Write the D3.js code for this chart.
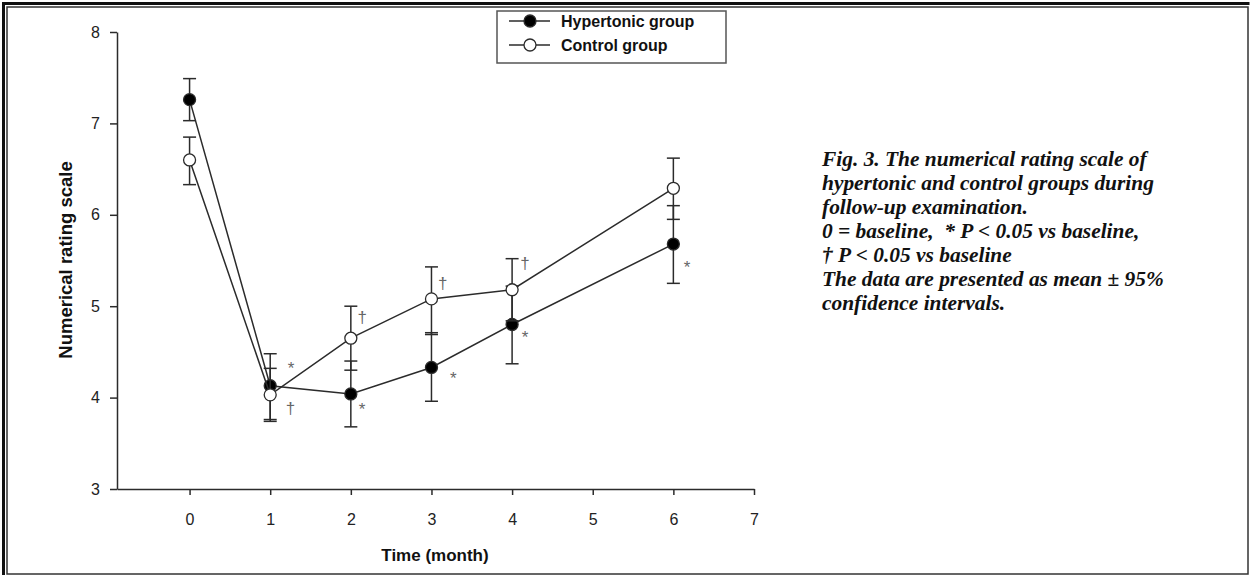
<!DOCTYPE html>
<html>
<head>
<meta charset="utf-8">
<script src="https://cdn.jsdelivr.net/npm/d3@7"></script>
<style>
  body { margin: 0; background: #fff; }
  svg { display: block; }
</style>
</head>
<body>
<div id="chart"></div>
<script>
var WIDTH = 1250;
var HEIGHT = 576;

// data
var months = [0, 1, 2, 3, 4, 6];
var hyperMean = [7.26, 4.13, 4.04, 4.33, 4.80, 5.68];
var hyperLow = [7.03, 3.76, 3.68, 3.96, 4.37, 5.25];
var hyperHigh = [7.49, 4.48, 4.40, 4.71, 5.22, 6.10];
var controlMean = [6.60, 4.03, 4.65, 5.08, 5.18, 6.29];
var controlLow = [6.33, 3.74, 4.30, 4.69, 4.84, 5.95];
var controlHigh = [6.85, 4.32, 5.00, 5.43, 5.52, 6.62];

// significance marks, placed in data units
var markText = ["*", "\u2020", "\u2020", "*", "\u2020", "*", "\u2020", "*", "*"];
var markMonth = [1.26, 1.25, 2.14, 2.14, 3.14, 3.27, 4.16, 4.16, 6.17];
var markValue = [4.37, 3.88, 4.88, 3.92, 5.25, 4.26, 5.47, 4.71, 5.48];

var xTicks = [0, 1, 2, 3, 4, 5, 6, 7];
var yTicks = [3, 4, 5, 6, 7, 8];
var seriesNames = ["Hypertonic group", "Control group"];

var captionLines = [
	"Fig. 3. The numerical rating scale of",
	"hypertonic and control groups during",
	"follow-up examination.",
	"0 = baseline,  * P < 0.05 vs baseline,",
	"\u2020 P < 0.05 vs baseline",
	"The data are presented as mean \u00b1 95%",
	"confidence intervals."
];

var INK = "#2b2b2b";
var SANS = "Liberation Sans, Arial, sans-serif";

var svg = d3.select("#chart")
	.append("svg")
	.attr("width", WIDTH)
	.attr("height", HEIGHT);

svg.append("rect").attr("width", WIDTH).attr("height", HEIGHT).attr("fill", "#fff");

// frame: heavy top/left, thin all round
svg.append("rect")
	.attr("x", 7).attr("y", 7)
	.attr("width", 1241).attr("height", 567)
	.attr("fill", "none").attr("stroke", "#333").attr("stroke-width", 1.5);
svg.append("line")
	.attr("x1", 2).attr("x2", 1249.5).attr("y1", 3.5).attr("y2", 3.5)
	.attr("stroke", "#111").attr("stroke-width", 3);
svg.append("line")
	.attr("x1", 3.5).attr("x2", 3.5).attr("y1", 2).attr("y2", 575)
	.attr("stroke", "#111").attr("stroke-width", 3);

var xScale = d3.scaleLinear().domain([-0.9, 7]).range([117, 754]);
var yScale = d3.scaleLinear().domain([3, 8]).range([489, 32]);

// axes
var xAxis = svg.append("g")
	.attr("transform", "translate(0," + yScale(3) + ")")
	.call(d3.axisBottom(xScale).tickValues(xTicks).tickFormat(d3.format("d"))
		.tickSize(6).tickPadding(19).tickSizeOuter(0));
var yAxis = svg.append("g")
	.attr("transform", "translate(" + xScale(-0.9) + ",0)")
	.call(d3.axisLeft(yScale).tickValues(yTicks).tickFormat(d3.format("d"))
		.tickSize(7).tickPadding(10).tickSizeOuter(0));

[xAxis, yAxis].forEach(function (g) {
	g.select(".domain").attr("stroke", INK).attr("stroke-width", 1.5);
	g.selectAll(".tick line").attr("stroke", INK).attr("stroke-width", 1.5);
	g.selectAll(".tick text")
		.attr("fill", "#222")
		.style("font-family", SANS)
		.style("font-size", "16px");
});

svg.append("text")
	.attr("x", 435).attr("y", 561)
	.attr("text-anchor", "middle")
	.style("font-family", SANS)
	.style("font-size", "17px").style("font-weight", "bold")
	.attr("fill", "#111")
	.text("Time (month)");

svg.append("text")
	.attr("transform", "translate(72,260) rotate(-90)")
	.attr("text-anchor", "middle")
	.style("font-family", SANS)
	.style("font-size", "18.5px").style("font-weight", "bold")
	.attr("fill", "#111")
	.text("Numerical rating scale");

// series
var series = [
	{ mean: hyperMean, low: hyperLow, high: hyperHigh, fill: "#000" },
	{ mean: controlMean, low: controlLow, high: controlHigh, fill: "#fff" }
];

var line = d3.line()
	.x(function (d) { return xScale(d[0]); })
	.y(function (d) { return yScale(d[1]); });

var capHalf = 6.5;

series.forEach(function (s) {
	var g = svg.append("g");
	var pts = months.map(function (m, i) { return [m, s.mean[i], s.low[i], s.high[i]]; });

	// error bars
	g.selectAll(".bar").data(pts).join("line")
		.attr("x1", function (d) { return xScale(d[0]); })
		.attr("x2", function (d) { return xScale(d[0]); })
		.attr("y1", function (d) { return yScale(d[2]); })
		.attr("y2", function (d) { return yScale(d[3]); })
		.attr("stroke", INK).attr("stroke-width", 1.5);
	g.selectAll(".capLow").data(pts).join("line")
		.attr("x1", function (d) { return xScale(d[0]) - capHalf; })
		.attr("x2", function (d) { return xScale(d[0]) + capHalf; })
		.attr("y1", function (d) { return yScale(d[2]); })
		.attr("y2", function (d) { return yScale(d[2]); })
		.attr("stroke", INK).attr("stroke-width", 1.5);
	g.selectAll(".capHigh").data(pts).join("line")
		.attr("x1", function (d) { return xScale(d[0]) - capHalf; })
		.attr("x2", function (d) { return xScale(d[0]) + capHalf; })
		.attr("y1", function (d) { return yScale(d[3]); })
		.attr("y2", function (d) { return yScale(d[3]); })
		.attr("stroke", INK).attr("stroke-width", 1.5);

	s.group = g;
	s.pts = pts;
});

series.forEach(function (s) {
	s.group.append("path")
		.attr("d", line(s.pts))
		.attr("fill", "none")
		.attr("stroke", INK).attr("stroke-width", 1.5);
});

series.forEach(function (s) {
	s.group.selectAll("circle").data(s.pts).join("circle")
		.attr("cx", function (d) { return xScale(d[0]); })
		.attr("cy", function (d) { return yScale(d[1]); })
		.attr("r", 6)
		.attr("fill", s.fill)
		.attr("stroke", INK).attr("stroke-width", 1.3);
});

// significance marks
svg.selectAll(".mark")
	.data(markText)
	.join("text")
	.attr("class", "mark")
	.attr("x", function (d, i) { return xScale(markMonth[i]); })
	.attr("y", function (d, i) { return yScale(markValue[i]); })
	.attr("dy", function (d) { return d === "*" ? "0.62em" : "0.32em"; })
	.attr("text-anchor", "middle")
	.attr("fill", "#666")
	.style("font-family", SANS)
	.style("font-size", "17px")
	.text(function (d) { return d; });

// legend
var legend = svg.append("g").attr("transform", "translate(497,11)");
legend.append("rect")
	.attr("width", 229).attr("height", 52)
	.attr("fill", "#fff").attr("stroke", "#555").attr("stroke-width", 1.5);

var rows = legend.selectAll(".row")
	.data(seriesNames)
	.join("g")
	.attr("transform", function (d, i) { return "translate(0," + (10 + i * 24) + ")"; });
rows.append("line")
	.attr("x1", 12).attr("x2", 53)
	.attr("stroke", INK).attr("stroke-width", 1.5);
rows.append("circle")
	.attr("cx", 33).attr("r", 6)
	.attr("fill", function (d, i) { return series[i].fill; })
	.attr("stroke", INK).attr("stroke-width", 1.3);
rows.append("text")
	.attr("x", 64).attr("dy", "0.35em")
	.style("font-family", SANS)
	.style("font-size", "16px").style("font-weight", "bold")
	.attr("fill", "#111")
	.text(function (d) { return d; });

// caption, sized so the first line spans like the original
var caption = svg.append("g")
	.selectAll("text")
	.data(captionLines)
	.join("text")
	.attr("x", 822)
	.attr("y", function (d, i) { return 166 + i * 24; })
	.style("font-family", "Liberation Serif, serif")
	.style("font-size", "18px")
	.style("font-style", "italic")
	.style("font-weight", "bold")
	.style("white-space", "pre")
	.attr("fill", "#111")
	.text(function (d) { return d; });

var firstLen = caption.node().getComputedTextLength();
caption.style("font-size", (18 * 325 / firstLen) + "px");
</script>
</body>
</html>
